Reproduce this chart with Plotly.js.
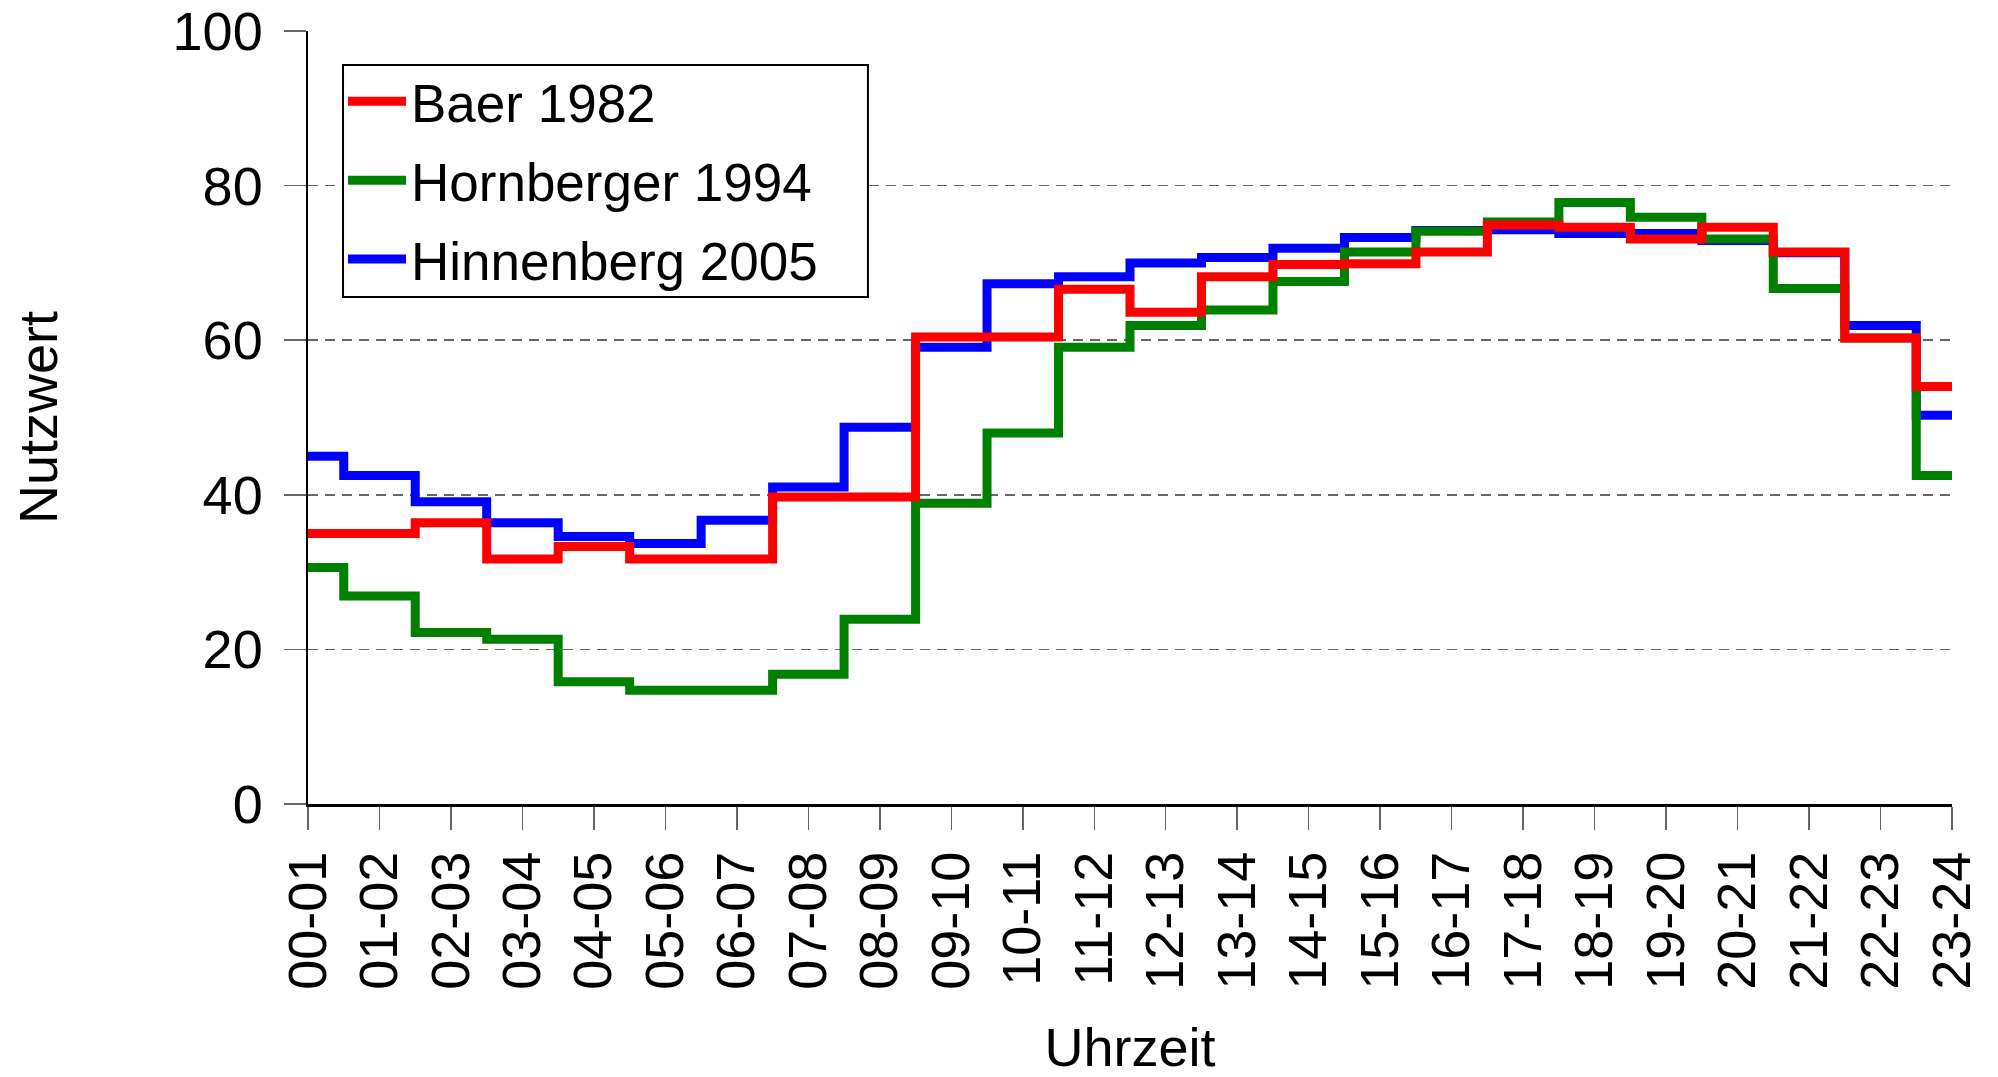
<!DOCTYPE html>
<html>
<head>
<meta charset="utf-8">
<script src="https://cdn.plot.ly/plotly-3.0.1.min.js"></script>
<style>html,body{margin:0;padding:0;background:#fff;}#chart{width:1998px;height:1077px;}</style>
</head>
<body>
<div id="chart"></div>
<script>
var hours = ["00-01","01-02","02-03","03-04","04-05","05-06","06-07","07-08","08-09","09-10","10-11","11-12",
             "12-13","13-14","14-15","15-16","16-17","17-18","18-19","19-20","20-21","21-22","22-23","23-24"];
var baer1982 = [35, 35, 36.4, 31.7, 33.3, 31.7, 31.7, 39.7, 39.7, 60.4, 60.4, 66.6,
                63.6, 68.2, 69.8, 69.9, 71.4, 74.9, 74.6, 73.1, 74.6, 71.4, 60.3, 54.0];
var hornberger1994 = [30.6, 26.9, 22.2, 21.3, 15.8, 14.7, 14.7, 16.8, 23.9, 38.9, 48.0, 59.1,
                      61.9, 63.9, 67.6, 71.4, 74.1, 75.3, 77.8, 75.9, 73.1, 66.7, 60.3, 42.5];
var hinnenberg2005 = [45, 42.5, 39.1, 36.4, 34.6, 33.7, 36.7, 41.0, 48.75, 59.1, 67.3, 68.2,
                      70.0, 70.7, 71.9, 73.3, 74.2, 74.3, 73.8, 73.8, 72.9, 71.3, 61.9, 50.3];
var yTicks = [0, 20, 40, 60, 80, 100];

var FONT = '"Liberation Sans", Arial, sans-serif';
function tr(name, y, color, grp, rank) {
  return {
    type: 'scatter', mode: 'lines', name: name, x: hours, y: y,
    legendgroup: grp, legendrank: rank,
    line: {color: color, width: 9, shape: 'hvh'},
    hoverinfo: 'skip'
  };
}
var data = [
  tr('Hinnenberg 2005', hinnenberg2005, '#0000FF', 'c', 3),
  tr('Hornberger 1994', hornberger1994, '#008000', 'b', 2),
  tr('Baer 1982', baer1982, '#FF0000', 'a', 1)
];
var layout = {
  width: 1998, height: 1077,
  margin: {l: 308, r: 46, t: 31, b: 273},
  paper_bgcolor: '#fff', plot_bgcolor: '#fff',
  font: {family: FONT, size: 54, color: '#000'},
  showlegend: true,
  legend: {
    x: 0.0213, y: 0.962, xanchor: 'left', yanchor: 'top',
    bgcolor: 'rgba(0,0,0,0)', borderwidth: 0,
    traceorder: 'grouped', tracegroupgap: 7, itemwidth: 58,
    font: {family: FONT, size: 53, color: '#000'}
  },
  shapes: [{
    type: 'rect', xref: 'paper', yref: 'paper',
    x0: 0.0213, x1: 0.3406, y0: 0.656, y1: 0.956,
    line: {color: '#000', width: 2}, fillcolor: '#fff', layer: 'above'
  }],
  xaxis: {
    type: 'category', range: [0, 23],
    showgrid: false, zeroline: false,
    showline: true, linecolor: '#000', linewidth: 3,
    ticks: 'outside', ticklen: 23, tickcolor: '#666', tickwidth: 1.5,
    tickangle: -90,
    tickfont: {family: FONT, size: 54, color: '#000'},
    title: {text: 'Uhrzeit', font: {family: FONT, size: 54, color: '#000'}, standoff: 52}
  },
  yaxis: {
    range: [0, 100], tickvals: yTicks, ticktext: yTicks.map(String),
    showgrid: true, gridcolor: '#666', gridwidth: 1.5, griddash: '10px,7px',
    zeroline: false,
    showline: true, linecolor: '#000', linewidth: 2.5,
    ticks: 'outside', ticklen: 22, tickcolor: '#666', tickwidth: 1.5,
    ticklabelstandoff: 10,
    tickfont: {family: FONT, size: 54, color: '#000'},
    title: {text: 'Nutzwert', font: {family: FONT, size: 54, color: '#000'}, standoff: 98}
  }
};
Plotly.newPlot('chart', data, layout, {staticPlot: true});
</script>
</body>
</html>
